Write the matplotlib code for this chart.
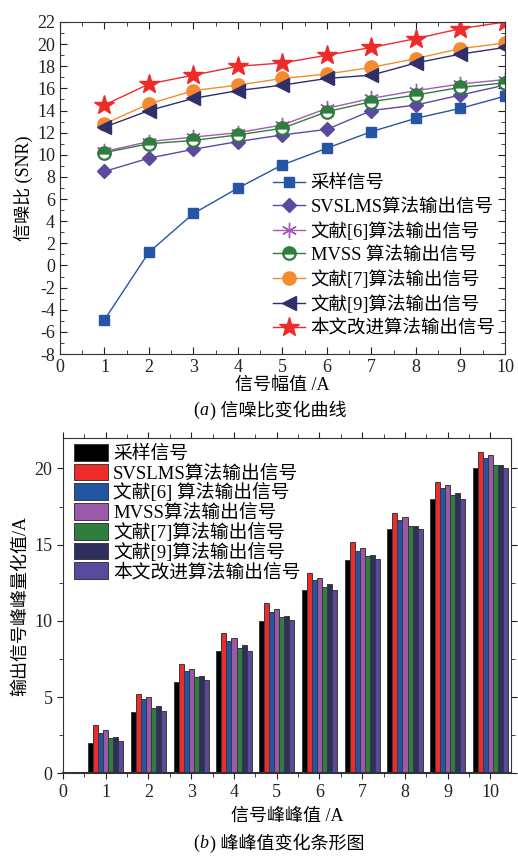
import numpy as np
import matplotlib
matplotlib.use('Agg')
import matplotlib.pyplot as plt
from matplotlib.ticker import MultipleLocator

plt.rcParams['font.family'] = ['Liberation Serif', 'Noto Sans CJK SC']
plt.rcParams['axes.unicode_minus'] = False

# ---------------- data: (a) SNR curves ----------------
amp = [1, 2, 3, 4, 5, 6, 7, 8, 9, 10]
snr_sample = [-4.9, 1.2, 4.7, 7.0, 9.1, 10.6, 12.1, 13.3, 14.2, 15.3]
snr_svslms = [8.5, 9.7, 10.5, 11.2, 11.8, 12.3, 14.0, 14.5, 15.4, 16.3]
snr_ref6 = [10.3, 11.2, 11.6, 12.0, 12.7, 14.2, 15.1, 15.8, 16.4, 16.8]
snr_mvss = [10.2, 11.0, 11.3, 11.8, 12.4, 13.9, 14.8, 15.4, 16.1, 16.5]
snr_ref7 = [12.8, 14.6, 15.8, 16.3, 16.9, 17.3, 17.9, 18.7, 19.6, 20.1]
snr_ref9 = [12.5, 14.0, 15.1, 15.8, 16.3, 16.9, 17.2, 18.3, 19.1, 19.7]
snr_ours = [14.5, 16.4, 17.2, 18.0, 18.3, 19.0, 19.7, 20.5, 21.4, 22.0]

line_labels = ['采样信号', 'SVSLMS算法输出信号', '文献[6]算法输出信号', 'MVSS 算法输出信号',
               '文献[7]算法输出信号', '文献[9]算法输出信号', '本文改进算法输出信号']

# ---------------- data: (b) peak-to-peak bars ----------------
pp = [1, 2, 3, 4, 5, 6, 7, 8, 9, 10]
pp_sample = [2.0, 4.0, 6.0, 8.0, 10.0, 12.0, 14.0, 16.0, 18.0, 20.0]
pp_svslms = [3.15, 5.2, 7.15, 9.2, 11.2, 13.15, 15.15, 17.1, 19.1, 21.1]
pp_ref6 = [2.65, 4.85, 6.7, 8.65, 10.6, 12.7, 14.6, 16.65, 18.75, 20.7]
pp_mvss = [2.85, 5.0, 6.85, 8.85, 10.8, 12.8, 14.8, 16.8, 18.9, 20.9]
pp_ref7 = [2.3, 4.3, 6.3, 8.25, 10.25, 12.2, 14.25, 16.2, 18.25, 20.25]
pp_ref9 = [2.4, 4.4, 6.4, 8.4, 10.35, 12.4, 14.3, 16.2, 18.4, 20.25]
pp_ours = [2.15, 4.1, 6.1, 8.05, 10.05, 12.05, 14.05, 16.0, 18.0, 20.0]

bar_labels = ['采样信号', 'SVSLMS算法输出信号', '文献[6] 算法输出信号', 'MVSS算法输出信号',
              '文献[7]算法输出信号', '文献[9]算法输出信号', '本文改进算法输出信号']

fig = plt.figure(figsize=(5.18, 8.56), dpi=100)

# ================= (a) =================
ax1 = fig.add_axes([0.1158, 0.5864, 0.8591, 0.3879])
styles = [
    (snr_sample, '#2456a5', dict(marker='s', ms=7.5)),
    (snr_svslms, '#5b4a9e', dict(marker='D', ms=7.5)),
    (snr_ref6, '#a35bb0', dict(marker=(6, 2, 0), ms=11, mew=1.0)),
    (snr_mvss, '#2f7d3f', dict(marker='o', ms=9, fillstyle='top', markerfacecoloralt='white', mew=1.6)),
    (snr_ref7, '#f58a2e', dict(marker='o', ms=9.5)),
    (snr_ref9, '#2e2f6b', dict(marker='<', ms=10)),
    (snr_ours, '#ee2b2b', dict(marker='*', ms=15)),
]
for (vals, col, mk), lab in zip(styles, line_labels):
    ax1.plot(amp, vals, color=col, lw=1.0, mec=col, mfc=col, label=lab, **mk)

ax1.set_xlim(0, 10)
ax1.set_ylim(-8, 22)
ax1.xaxis.set_major_locator(MultipleLocator(1))
ax1.xaxis.set_minor_locator(MultipleLocator(0.5))
ax1.yaxis.set_major_locator(MultipleLocator(2))
ax1.yaxis.set_minor_locator(MultipleLocator(1))
ax1.tick_params(which='both', direction='in', top=True, right=True, labelsize=13, colors='#222222')
ax1.tick_params(which='major', length=5)
ax1.tick_params(which='minor', length=3)
for s in ax1.spines.values():
    s.set_color('#333333')
ax1.set_xlabel('信号幅值 /A', fontsize=13, labelpad=1)
ax1.set_ylabel('信噪比 (SNR)', fontsize=13, labelpad=3)
ax1.legend(loc='upper left', bbox_to_anchor=(0.478, 0.537), frameon=False, fontsize=13.3,
           handlelength=1.75, handletextpad=0.3, labelspacing=0.33, borderpad=0, borderaxespad=0)

fig.text(0.385, 0.521, '(', fontsize=13, ha='right', va='center')
fig.text(0.385, 0.521, 'a', fontsize=13, style='italic', ha='left', va='center')
fig.text(0.405, 0.521, ') 信噪比变化曲线', fontsize=13, ha='left', va='center')

# ================= (b) =================
ax2 = fig.add_axes([0.1216, 0.0966, 0.8649, 0.3917])
bar_sets = [pp_sample, pp_svslms, pp_ref6, pp_mvss, pp_ref7, pp_ref9, pp_ours]
bar_cols = ['#000000', '#ee2a2a', '#2455a4', '#9b59a8', '#2f7d3f', '#2e2f5e', '#5a4a9e']
w = 0.118
x = np.array(pp)
for i, (vals, col, lab) in enumerate(zip(bar_sets, bar_cols, bar_labels)):
    ax2.bar(x + (i - 3) * w, vals, width=w, color=col, edgecolor='#3a3a3a', linewidth=0.7, label=lab)

ax2.set_xlim(0, 10.48)
ax2.set_ylim(0, 22)
ax2.xaxis.set_major_locator(MultipleLocator(1))
ax2.xaxis.set_minor_locator(MultipleLocator(0.5))
ax2.yaxis.set_major_locator(MultipleLocator(5))
ax2.yaxis.set_minor_locator(MultipleLocator(2.5))
ax2.tick_params(which='both', direction='out', top=True, right=True, labelsize=13, colors='#222222')
ax2.tick_params(which='major', length=4)
ax2.tick_params(which='minor', length=3)
for s in ax2.spines.values():
    s.set_color('#333333')
ax2.spines['bottom'].set_linewidth(1.5)
ax2.set_xlabel('信号峰峰值 /A', fontsize=13, labelpad=5)
ax2.set_ylabel('输出信号峰峰量化值/A', fontsize=13, labelpad=4)
ax2.legend(loc='upper left', bbox_to_anchor=(0.024, 0.982), frameon=False, fontsize=13.5,
           handlelength=1.85, handleheight=1.0, handletextpad=0.25, labelspacing=0.04,
           borderpad=0, borderaxespad=0)

fig.text(0.385, 0.015, '(', fontsize=13, ha='right', va='center')
fig.text(0.385, 0.015, 'b', fontsize=13, style='italic', ha='left', va='center')
fig.text(0.405, 0.015, ') 峰峰值变化条形图', fontsize=13, ha='left', va='center')

fig.savefig('out.png', dpi=100)
